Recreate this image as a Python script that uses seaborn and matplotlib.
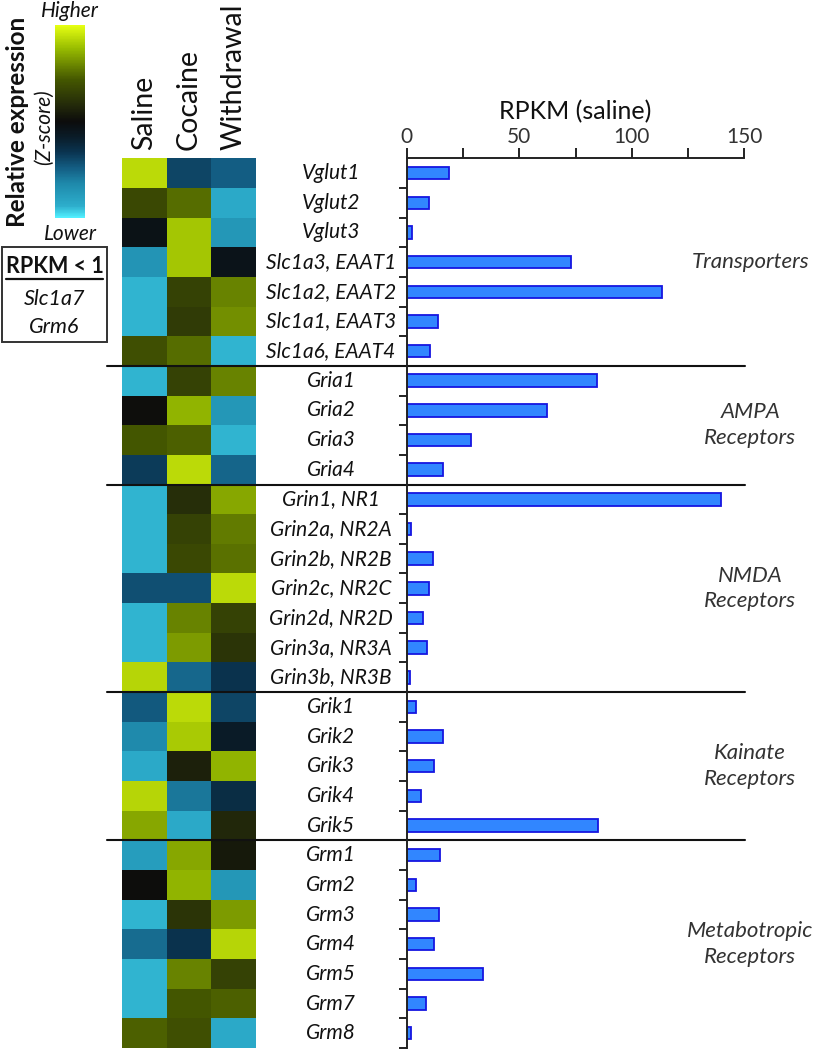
import numpy as np
import pandas as pd
import matplotlib
matplotlib.use("Agg")
import matplotlib.pyplot as plt
import seaborn as sns
from matplotlib.colors import LinearSegmentedColormap
from matplotlib.transforms import blended_transform_factory
from matplotlib.lines import Line2D
from matplotlib.patches import Rectangle

sns.set_theme(style="white")
plt.rcParams['font.family'] = ['Lato', 'DejaVu Sans']

# ---------------- data ----------------
genes = ["Vglut1", "Vglut2", "Vglut3", "Slc1a3, EAAT1", "Slc1a2, EAAT2", "Slc1a1, EAAT3", "Slc1a6, EAAT4",
         "Gria1", "Gria2", "Gria3", "Gria4",
         "Grin1, NR1", "Grin2a, NR2A", "Grin2b, NR2B", "Grin2c, NR2C", "Grin2d, NR2D", "Grin3a, NR3A", "Grin3b, NR3B",
         "Grik1", "Grik2", "Grik3", "Grik4", "Grik5",
         "Grm1", "Grm2", "Grm3", "Grm4", "Grm5", "Grm7", "Grm8"]
conditions = ["Saline", "Cocaine", "Withdrawal"]
saline_z = [1.12, 0.45, -0.08, -0.93, -1.15, -1.15, 0.50,
            -1.15, 0.02, 0.55, -0.45,
            -1.15, -1.15, -1.15, -0.55, -1.15, -1.15, 1.10,
            -0.60, -0.85, -1.10, 1.10, 0.90,
            -1.00, 0.00, -1.15, -0.70, -1.15, -1.15, 0.60]
cocaine_z = [-0.50, 0.65, 1.03, 1.03, 0.40, 0.35, 0.65,
             0.40, 0.95, 0.60, 1.12,
             0.25, 0.40, 0.45, -0.55, 0.75, 0.85, -0.68,
             1.12, 1.05, 0.15, -0.75, -1.10,
             0.90, 0.95, 0.30, -0.40, 0.75, 0.55, 0.50]
withdrawal_z = [-0.62, -1.10, -0.95, -0.10, 0.75, 0.80, -1.15,
                0.75, -0.95, -1.15, -0.67,
                0.90, 0.72, 0.68, 1.12, 0.40, 0.30, -0.40,
                -0.50, -0.20, 0.95, -0.35, 0.20,
                0.10, -0.95, 0.85, 1.10, 0.40, 0.60, -1.10]
rpkm_saline = [18.8, 9.8, 2.5, 73.0, 113.3, 14.0, 10.2,
               84.7, 62.5, 28.4, 16.3,
               139.7, 1.8, 11.7, 9.9, 7.1, 8.9, 1.6,
               4.0, 16.0, 12.0, 6.2, 85.0,
               14.7, 4.0, 14.5, 12.3, 34.1, 8.4, 1.8]
group_names = ["Transporters", "AMPA\nReceptors", "NMDA\nReceptors", "Kainate\nReceptors", "Metabotropic\nReceptors"]
group_sizes = [7, 4, 7, 5, 7]
low_rpkm_genes = ["Slc1a7", "Grm6"]
x_ticks = [0, 50, 100, 150]

# ---------------- figure ----------------
W, H = 814, 1050
fig = plt.figure(figsize=(W / 100, H / 100), dpi=100)

def fx(px):
    return px / W

def fy(py):
    return 1 - py / H

top_px, bot_px = 158.3, 1048.0
ax_hm = fig.add_axes([fx(122), fy(bot_px), fx(256) - fx(122), (bot_px - top_px) / H])
cax = fig.add_axes([fx(55), fy(218), fx(85) - fx(55), (218 - 25) / H])
ax_bar = fig.add_axes([fx(406.7), fy(bot_px), fx(744.3) - fx(406.7), (bot_px - top_px) / H])

cmap = LinearSegmentedColormap.from_list("cyan_black_yellow", [
    (0.00, "#52F0FF"),
    (0.06, "#2DAECC"),
    (0.18, "#1E88AA"),
    (0.26, "#135C82"),
    (0.34, "#0A3450"),
    (0.42, "#0A1C28"),
    (0.50, "#0C0C0C"),
    (0.58, "#22280A"),
    (0.72, "#455800"),
    (0.88, "#98BC00"),
    (1.00, "#E6FF12"),
])

zdf = pd.DataFrame({"Saline": saline_z, "Cocaine": cocaine_z, "Withdrawal": withdrawal_z}, index=genes)[conditions]
sns.heatmap(zdf, ax=ax_hm, cmap=cmap, vmin=-1.3, vmax=1.3, cbar=True, cbar_ax=cax,
            xticklabels=True, yticklabels=False, linewidths=0)
ax_hm.xaxis.tick_top()
ax_hm.set_xticklabels(conditions, rotation=90, fontsize=20.5, color="#111111", va="bottom", ha="center")
ax_hm.tick_params(axis="x", length=0, pad=6)
ax_hm.set_xlabel("")
ax_hm.set_ylabel("")

cb = ax_hm.collections[0].colorbar
cb.outline.set_visible(False)
cb.set_ticks([])
cax.tick_params(length=0)

# ---------------- bars ----------------
bdf = pd.DataFrame({"gene": genes, "rpkm": rpkm_saline})
sns.barplot(data=bdf, x="rpkm", y="gene", orient="h", ax=ax_bar, color="#3186FF",
            saturation=1, width=0.42, edgecolor="#1616E0", linewidth=1.3)
ax_bar.set_xlim(0, 150)
ax_bar.set_ylim(len(genes) - 0.5, -0.5)
ax_bar.xaxis.tick_top()
ax_bar.xaxis.set_label_position("top")
ax_bar.set_xticks(x_ticks)
ax_bar.set_xticks([25, 75, 125], minor=True)
ax_bar.set_xticklabels([str(t) for t in x_ticks], fontsize=15, color="#333333")
ax_bar.tick_params(axis="x", which="both", direction="out", length=7, width=1.4, color="#222222",
                   top=True, bottom=False, pad=1)
ax_bar.set_xlabel("RPKM (saline)", fontsize=18, color="#111111", labelpad=6)
ax_bar.set_ylabel("")
ax_bar.set_yticks(np.arange(len(genes)) + 0.5)
ax_bar.set_yticklabels([])
ax_bar.tick_params(axis="y", which="both", direction="out", length=6, width=1.4, color="#222222", left=True)
for s in ["right", "bottom"]:
    ax_bar.spines[s].set_visible(False)
for s in ["left", "top"]:
    ax_bar.spines[s].set_visible(True)
    ax_bar.spines[s].set_color("#222222")
    ax_bar.spines[s].set_linewidth(1.4)
ax_bar.grid(False)

# gene labels
tr_lab = blended_transform_factory(fig.transFigure, ax_bar.transData)
for i, g in enumerate(genes):
    ax_bar.text(fx(331), i, g, transform=tr_lab, ha="center", va="center",
                fontsize=15, style="italic", color="#111111", clip_on=False)

# group separators and labels
bounds = np.cumsum(group_sizes)
start = 0
for name, n in zip(group_names, group_sizes):
    mid = start + (n - 1) / 2
    ax_bar.text(152.6, mid, name, ha="center", va="center", fontsize=16, style="italic",
                color="#333333", linespacing=1.35, clip_on=False)
    start += n
for b in bounds[:-1]:
    y = b - 0.5
    ax_bar.add_line(Line2D([fx(107), fx(745)], [y, y], transform=tr_lab, color="#111111",
                           lw=1.5, clip_on=False))

# colorbar annotations
fig.text(fx(70), fy(11), "Higher", ha="center", va="center", fontsize=15, style="italic", color="#111111")
fig.text(fx(70), fy(234), "Lower", ha="center", va="center", fontsize=15, style="italic", color="#111111")
fig.text(fx(18), fy(122), "Relative expression", rotation=90, ha="center", va="center",
         fontsize=17.5, fontweight="bold", color="#111111")
fig.text(fx(44), fy(127), "(Z-score)", rotation=90, ha="center", va="center",
         fontsize=15, style="italic", color="#111111")

# RPKM < 1 box
fig.add_artist(Rectangle((fx(2), fy(342)), fx(107) - fx(2), (342 - 247) / H, transform=fig.transFigure,
                         fill=False, edgecolor="#333333", lw=1.4))
t = fig.text(fx(54.5), fy(267), "RPKM < 1", ha="center", va="center", fontsize=15.5,
             fontweight="bold", color="#111111")
fig.canvas.draw()
bb = t.get_window_extent().transformed(fig.transFigure.inverted())
fig.add_artist(Line2D([bb.x0, bb.x1], [bb.y0 - 2 / H, bb.y0 - 2 / H], transform=fig.transFigure,
                      color="#111111", lw=1.6))
for k, gname in enumerate(low_rpkm_genes):
    fig.text(fx(54.5), fy(299 + 28 * k), gname, ha="center", va="center", fontsize=15.5,
             style="italic", color="#111111")

fig.savefig("out.png", dpi=100)
